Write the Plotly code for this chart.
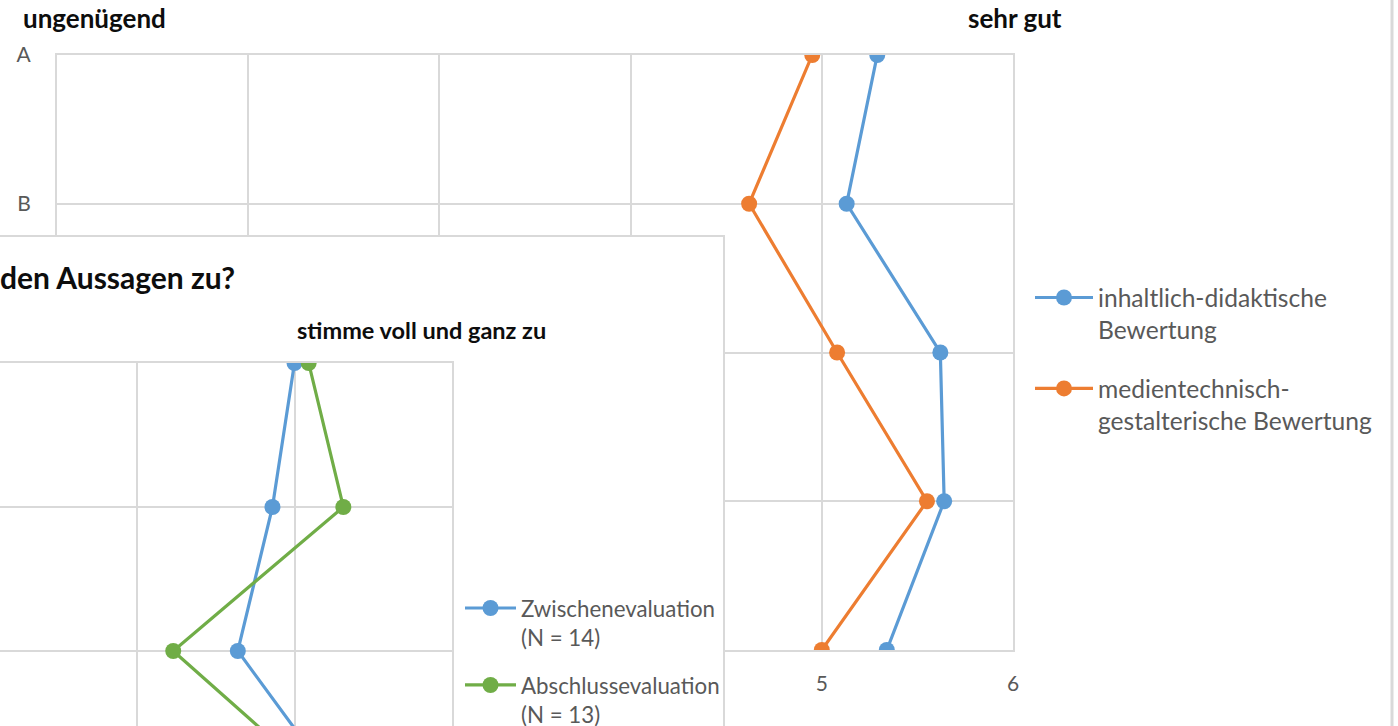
import plotly.graph_objects as go

W, H = 1398, 726

# ---------------- data ----------------
# back chart: ratings on a 1..6 scale (ungenügend .. sehr gut)
back_categories = ["A", "B", "C", "D", "E"]
back_tick_labels = ["A", "B", "", "", ""]          # C..E hidden behind front chart
back_x_ticks = [1, 2, 3, 4, 5, 6]
back_x_tick_labels = ["", "", "", "", "5", "6"]    # 1..4 hidden behind front chart
back_series_names = ["inhaltlich-didaktische<br>Bewertung",
                     "medientechnisch-<br>gestalterische Bewertung"]
inhaltlich = [5.29, 5.13, 5.62, 5.64, 5.34]
medientechnisch = [4.95, 4.62, 5.08, 5.55, 5.00]

# front chart: agreement scale 1..4 (.. stimme voll und ganz zu)
front_categories = ["Aussage 1", "Aussage 2", "Aussage 3", "Aussage 4"]
front_x_ticks = [1, 2, 3, 4]
front_series_names = ["Zwischenevaluation<br>(N = 14)",
                      "Abschlussevaluation<br>(N = 13)"]
zwischen = [3.00, 2.86, 2.64, 3.31]
abschluss = [3.09, 3.31, 2.23, 3.26]

# ---------------- style ----------------
FONT = "Lato"
BLUE = "#5B9BD5"
ORANGE = "#ED7D31"
GREEN = "#70AD47"
GRID = "#D9D9D9"
TXT = "#595959"


def px(p):
    return p / W


def py(p):
    return 1 - p / H


fig = go.Figure()

# back chart traces
for vals, name, col in [(inhaltlich, back_series_names[0], BLUE),
                        (medientechnisch, back_series_names[1], ORANGE)]:
    fig.add_trace(go.Scatter(
        x=vals, y=back_categories, mode="lines+markers", name=name,
        line=dict(color=col, width=3.2), marker=dict(color=col, size=16),
        xaxis="x", yaxis="y", legend="legend", legendgroup=name))

# cover panel (front chart area) - empty subplot
fig.add_trace(go.Scatter(x=[], y=[], xaxis="x2", yaxis="y2", showlegend=False,
                         hoverinfo="skip"))

# front chart traces
for vals, name, col in [(zwischen, front_series_names[0], BLUE),
                        (abschluss, front_series_names[1], GREEN)]:
    fig.add_trace(go.Scatter(
        x=vals, y=front_categories, mode="lines+markers", name=name,
        line=dict(color=col, width=3.2), marker=dict(color=col, size=16),
        xaxis="x3", yaxis="y3", legend="legend2", legendgroup=name))

axis_common = dict(gridcolor=GRID, gridwidth=2, zeroline=False,
                   linecolor=GRID, linewidth=2, fixedrange=True)

fig.update_layout(
    width=W, height=H,
    margin=dict(l=0, r=0, t=0, b=0, autoexpand=False),
    paper_bgcolor="white", plot_bgcolor="white",
    font=dict(family=FONT, color=TXT),
    # back chart axes
    xaxis=dict(domain=[px(57), px(1013)], range=[1, 6], tickvals=back_x_ticks,
               ticktext=back_x_tick_labels,
               showgrid=True, showline=True, mirror=True, anchor="y",
               ticks="outside", ticklen=14, tickcolor="rgba(0,0,0,0)",
               tickfont=dict(size=21, color=TXT), **axis_common),
    yaxis=dict(domain=[py(650), py(55)], type="category",
               categoryorder="array", categoryarray=back_categories,
               tickvals=back_categories, ticktext=back_tick_labels,
               range=[4, 0], showgrid=True, showline=True, mirror=True,
               anchor="x", ticks="outside", ticklen=20,
               tickcolor="rgba(0,0,0,0)",
               tickfont=dict(size=21, color=TXT), **axis_common),
    # cover panel
    xaxis2=dict(domain=[0, px(723)], range=[0, 1], showgrid=False,
                showticklabels=False, showline=True, side="top", anchor="y2",
                **axis_common),
    yaxis2=dict(domain=[0, py(237)], range=[0, 1], showgrid=False,
                showticklabels=False, showline=True, side="right",
                anchor="x2", **axis_common),
    # front chart axes
    xaxis3=dict(domain=[0, px(452)], range=[4 - 452 / 157.5, 4],
                tickvals=front_x_ticks, showgrid=True, showticklabels=False,
                showline=True, side="top", anchor="y3", **axis_common),
    yaxis3=dict(domain=[0, py(363)], type="category",
                categoryorder="array", categoryarray=front_categories,
                range=[(726 - 363) / 144, 0], showgrid=True,
                showticklabels=False, showline=True, side="right",
                anchor="x3", **axis_common),
    legend=dict(x=px(1030), y=py(275), xanchor="left", yanchor="top",
                font=dict(family=FONT, size=24.6, color=TXT),
                bgcolor="rgba(0,0,0,0)", valign="top", itemwidth=58,
                tracegroupgap=24),
    legend2=dict(x=px(460), y=py(587), xanchor="left", yanchor="top",
                 font=dict(family=FONT, size=22.3, color=TXT),
                 bgcolor="rgba(0,0,0,0)", valign="top", itemwidth=51,
                 tracegroupgap=16),
    showlegend=True,
)

annotations = [
    dict(text="<b>ungenügend</b>", x=px(21), y=py(18), xanchor="left",
         font=dict(size=26, color="#0D0D0D")),
    dict(text="<b>sehr gut</b>", x=px(1015), y=py(18), xanchor="center",
         font=dict(size=26, color="#0D0D0D")),
    dict(text="<b>den Aussagen zu?</b>", x=px(237), y=py(277), xanchor="right",
         font=dict(size=30, color="#0D0D0D")),
    dict(text="<b>stimme voll und ganz zu</b>", x=px(422), y=py(330),
         xanchor="center", font=dict(size=23.5, color="#0D0D0D")),
]
for a in annotations:
    a.update(xref="paper", yref="paper", yanchor="middle", showarrow=False)
    a["font"]["family"] = FONT
fig.update_layout(annotations=annotations)

# outer border of the back chart on the right edge
fig.add_shape(type="line", xref="paper", yref="paper",
              x0=px(1392), x1=px(1392), y0=0, y1=1,
              line=dict(color=GRID, width=3))

fig.write_html("out.html",
               config={"displayModeBar": False},
               post_script="document.body.style.margin='0';"
                           "document.body.style.overflow='hidden';")
